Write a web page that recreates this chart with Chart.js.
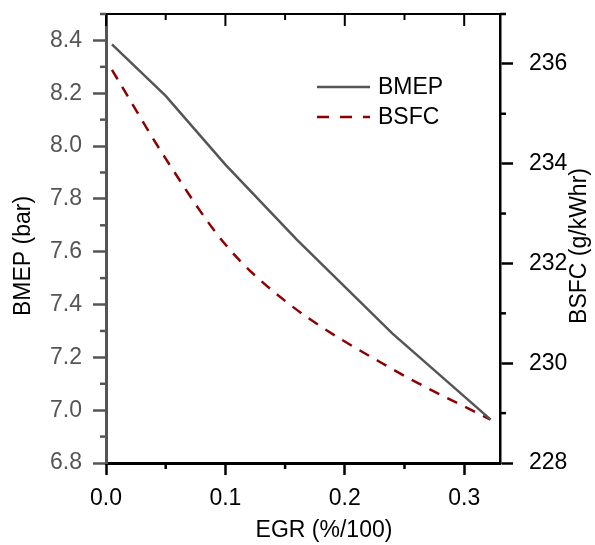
<!DOCTYPE html>
<html>
<head>
<meta charset="utf-8">
<script src="https://cdn.jsdelivr.net/npm/chart.js@4"></script>
<style>
  body { margin: 0; background: #fff; }
  #wrap { width: 595px; height: 545px; }
</style>
</head>
<body>
<div id="wrap"><canvas id="chartEgr" width="595" height="545"></canvas></div>
<script>
// data
const egrBmep = [0.005, 0.05, 0.10, 0.16, 0.24, 0.322];
const bmep    = [8.385, 8.19, 7.93, 7.645, 7.29, 6.965];

const egrBsfc = [0.005, 0.05, 0.10, 0.15, 0.24, 0.322];
const bsfc    = [235.88, 234.10, 232.38, 231.25, 229.88, 228.87];

const xTicks     = [0.0, 0.1, 0.2, 0.3];
const xMinor     = [0.05, 0.15, 0.25];
const bmepTicks  = [6.8, 7.0, 7.2, 7.4, 7.6, 7.8, 8.0, 8.2, 8.4];
const bmepMinor  = [6.9, 7.1, 7.3, 7.5, 7.7, 7.9, 8.1, 8.3, 8.5];
const bsfcTicks  = [228, 230, 232, 234, 236];
const bsfcMinor  = [229, 231, 233, 235, 237];

const FONT = '"Liberation Sans", Arial, sans-serif';
const GREY = '#555555';
const RED = '#8b0000';

// minor ticks, top frame, titles and legend
const extras = {
  id: 'extras',
  afterDraw(chart) {
    const ctx = chart.ctx;
    const a = chart.chartArea;
    const sx = chart.scales.x, sy = chart.scales.y, sy2 = chart.scales.y2;
    ctx.save();
    ctx.lineCap = 'butt';

    // top frame with inward ticks
    ctx.strokeStyle = '#000';
    ctx.lineWidth = 2;
    ctx.beginPath();
    ctx.moveTo(a.left - 3, a.top);
    ctx.lineTo(a.right + 1, a.top);
    ctx.stroke();
    xTicks.forEach(v => {
      const p = sx.getPixelForValue(v);
      ctx.beginPath(); ctx.moveTo(p, a.top); ctx.lineTo(p, a.top + 12); ctx.stroke();
    });
    xMinor.forEach(v => {
      const p = sx.getPixelForValue(v);
      ctx.beginPath(); ctx.moveTo(p, a.top); ctx.lineTo(p, a.top + 6); ctx.stroke();
    });

    // bottom minor ticks
    ctx.lineWidth = 2.5;
    xMinor.forEach(v => {
      const p = sx.getPixelForValue(v);
      ctx.beginPath(); ctx.moveTo(p, a.bottom); ctx.lineTo(p, a.bottom + 6); ctx.stroke();
    });

    // left minor ticks
    ctx.strokeStyle = GREY;
    bmepMinor.forEach(v => {
      const p = sy.getPixelForValue(v);
      ctx.beginPath(); ctx.moveTo(a.left, p); ctx.lineTo(a.left - 6, p); ctx.stroke();
    });

    // right minor ticks
    ctx.strokeStyle = '#000';
    bsfcMinor.forEach(v => {
      const p = sy2.getPixelForValue(v);
      ctx.beginPath(); ctx.moveTo(a.right, p); ctx.lineTo(a.right + 6, p); ctx.stroke();
    });

    // axis titles
    ctx.fillStyle = '#000';
    ctx.font = '23px ' + FONT;
    ctx.textAlign = 'center';
    ctx.textBaseline = 'middle';
    ctx.fillText('EGR (%/100)', 324, 531);

    ctx.save();
    ctx.translate(24, 256);
    ctx.rotate(-Math.PI / 2);
    ctx.fillText('BMEP (bar)', 0, 0);
    ctx.restore();

    ctx.save();
    ctx.translate(580, 246);
    ctx.rotate(-Math.PI / 2);
    ctx.fillText('BSFC (g/kWhr)', 0, 0);
    ctx.restore();

    // legend
    ctx.lineWidth = 2.5;
    ctx.strokeStyle = GREY;
    ctx.beginPath(); ctx.moveTo(317, 87); ctx.lineTo(370, 87); ctx.stroke();
    ctx.strokeStyle = RED;
    ctx.setLineDash([12, 11]);
    ctx.beginPath(); ctx.moveTo(317, 117); ctx.lineTo(370, 117); ctx.stroke();
    ctx.setLineDash([]);
    ctx.textAlign = 'left';
    ctx.fillStyle = '#000';
    ctx.fillText('BMEP', 378, 88);
    ctx.fillText('BSFC', 378, 118);

    ctx.restore();
  }
};

const setTicks = vals => scale => { scale.ticks = vals.map(v => ({ value: v })); };
const noPad = size => s => {
  s.paddingTop = 0; s.paddingBottom = 0; s.paddingLeft = 0; s.paddingRight = 0;
  if (s.isHorizontal()) s.height = size; else s.width = size;
};

new Chart(document.getElementById('chartEgr'), {
  type: 'line',
  data: {
    datasets: [
      {
        label: 'BMEP',
        data: egrBmep.map((x, i) => ({ x: x, y: bmep[i] })),
        yAxisID: 'y',
        borderColor: GREY,
        borderWidth: 2.5,
        pointRadius: 0,
        tension: 0
      },
      {
        label: 'BSFC',
        data: egrBsfc.map((x, i) => ({ x: x, y: bsfc[i] })),
        yAxisID: 'y2',
        borderColor: RED,
        borderWidth: 2.5,
        borderDash: [11, 9],
        pointRadius: 0,
        cubicInterpolationMode: 'monotone'
      }
    ]
  },
  options: {
    responsive: false,
    animation: false,
    layout: { padding: { top: 14, left: 0, right: 0, bottom: 0 } },
    plugins: { legend: { display: false }, tooltip: { enabled: false } },
    scales: {
      x: {
        type: 'linear',
        min: 0, max: 0.33,
        afterBuildTicks: setTicks(xTicks),
        afterFit: noPad(82),
        grid: { drawOnChartArea: false, tickLength: 12, tickWidth: 2.5, color: '#000' },
        border: { display: true, color: '#000', width: 3 },
        ticks: {
          color: '#000', padding: 10,
          font: { family: FONT, size: 23 },
          callback: v => v.toFixed(1)
        }
      },
      y: {
        position: 'left',
        min: 6.8, max: 8.5,
        afterBuildTicks: setTicks(bmepTicks),
        afterFit: noPad(106),
        grid: { drawOnChartArea: false, tickLength: 13, tickWidth: 2.5, color: GREY },
        border: { display: true, color: GREY, width: 3 },
        ticks: {
          color: GREY, padding: 11,
          font: { family: FONT, size: 23 },
          callback: v => v.toFixed(1)
        }
      },
      y2: {
        position: 'right',
        min: 228, max: 237,
        afterBuildTicks: setTicks(bsfcTicks),
        afterFit: noPad(95),
        grid: { drawOnChartArea: false, tickLength: 13, tickWidth: 2.5, color: '#000' },
        border: { display: true, color: '#000', width: 2.5 },
        ticks: {
          color: '#000', padding: 16,
          font: { family: FONT, size: 23 },
          callback: v => String(v)
        }
      }
    }
  },
  plugins: [extras]
});
</script>
</body>
</html>
